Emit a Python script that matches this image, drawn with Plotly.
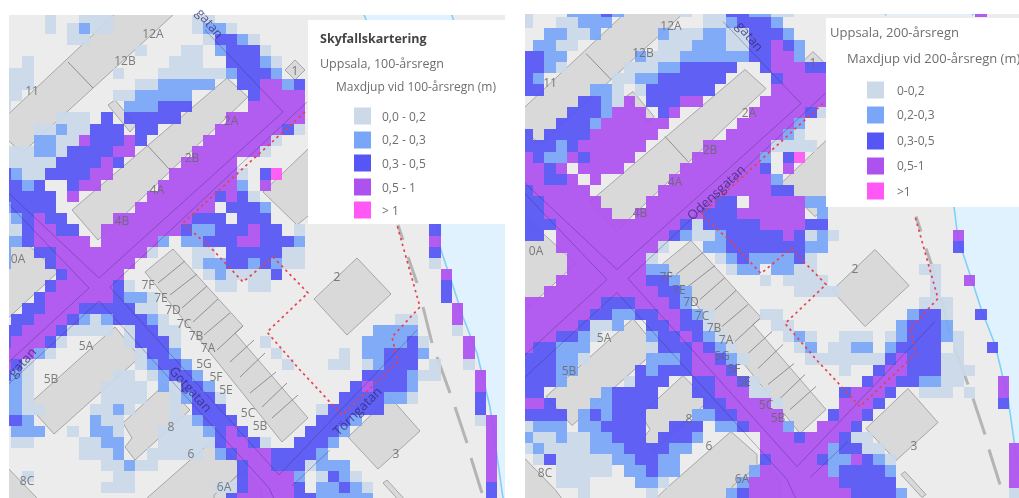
import plotly.graph_objects as go

W, H = 1019, 498
DEPTH_COLORS = ["#cbd9e9", "#7aa6f8", "#5656f6", "#ae52ef", "#ff58f6"]

# Depth class per raster cell, 100-year rain: "column(s)=class" for each row
LEFT_ROWS = [
    "4=1 7-9=1 17-18=1",
    "4=1 6=1 7=2 8-9=1 17=1 18-19=2 20=1",
    "6-7=1 18=1 19-20=3 21=2 22=1",
    "12=1 16-17=1 19=2 20-22=3 23=1",
    "2=1 15-17=1 20-22=3 23=2 24=1",
    "0-2=1 10=1 14-19=1 20=2 21-23=3 24=2",
    "0-2=1 12-13=1 14-18=2 21-22=3 23-24=4 25=2 26=3",
    "0-1=1 10-11=1 12-16=2 22=3 23-26=4",
    "0=1 11-13=2 14-16=3 22-26=4",
    "5-7=1 9=3 11-15=3 20-26=4",
    "3-4=1 5=2 6-7=1 8-10=3 12-13=3 19-24=4 25=3 26=1",
    "3-4=2 5-6=1 7=4 8-10=3 11=4 12=3 18-23=4 24=1",
    "0-2=1 3-4=2 5=1 6-9=3 10-11=4 17-22=4 23=1",
    "0-4=1 5-8=3 9=4 10=3 16-20=4",
    "0=3 1=2 2-3=1 4-7=3 8-9=4 15-20=4 21=1 23=3 24=5",
    "0-1=3 2=2 3=3 6=3 7-8=4 14-20=4 21=2 23=4",
    "0-4=3 6=4 13-18=4 19=3 20=4 21=3 22=1",
    "0=2 1-4=3 12-18=4 20-22=3 23=2",
    "0=1 1=2 2=3 3=4 4-5=3 10-16=4 17-19=3 21-23=3",
    "0-1=1 2=3 3-4=4 5-6=3 9-15=4 16=3 17-18=2 19-21=3 22=4 23-24=3 26=1 38=3",
    "0-1=2 2=3 3-7=4 9-13=4 14=2 16-17=2 18-20=3 21-22=4 23-25=3 26=2 38=4",
    "0=2 3-4=3 5-12=4 13=1 17=1 18=1 20-24=3 25-26=1 38=3",
    "0=2 4=3 5-11=4 17=1 18-19=2 20-21=3 22=2 23=3 24=2 25-26=1 38=1",
    "5=3 6-10=4 18=1 19=2 20-21=1 22-23=1 24=3 39=4",
    "4=3 5-9=4 10=3 11=1 19-20=1 22-23=1 39=3",
    "3=3 4-9=4 10=3 11-12=2 13=1 39=3",
    "2-3=3 4-6=4 7-11=3 12-13=1 40=4",
    "1-2=3 3-5=4 6=3 7=2 8=1 9=2 10-12=3 13=2 14=1 35-36=1 40=4",
    "0-1=3 2-4=4 5=3 6-9=1 11=1 12-13=3 14-15=1 33-36=2 40=1",
    "0=3 1-3=4 4=3 5=1 11=1 12-14=3 15=1 23=1 32-35=2 36=3 37=1 41=4",
    "0-2=4 3=2 4=1 12=1 13-14=3 15=2 24=1 30=1 32-33=2 34-36=3 37=2 41=4",
    "0=4 1=3 2=1 12=1 13=2 14-15=3 16=2 25=1 29-30=1 32=1 33=2 34-36=3 38=1 41=1",
    "0=3 1=2 2=1 10-11=1 13=1 14=2 15-16=3 17=2 32-35=3 36=2 37-38=1 42=4",
    "0-1=2 2=1 9-12=1 14=2 15=1 16-17=3 18=2 31=3 32=4 33-35=3 36=2 42=4",
    "0-1=2 2=1 9-12=1 15=1 16=2 17-18=3 19=1 30-33=3 34-35=2 36=1 42=3",
    "0-1=2 2-3=1 8-9=1 10=2 11=1 15=1 17-19=3 28=1 29-33=3 42=3",
    "0-1=3 2=2 8=2 9-10=1 15-16=1 17=2 18-20=3 28-30=3 31=2 42=1 43=4",
    "1-3=2 6=1 8-9=2 10=1 14-17=1 18=2 19=3 20=4 21=3 27-29=3 30=2 43=4",
    "1-2=1 7-8=1 9-10=2 14-18=1 19=3 20-21=4 22=3 23=1 26-28=3 29=2 43=4",
    "7-9=1 10=2 13-17=1 19=2 20=3 21-23=4 24-27=3 28=2 43=4",
    "9-10=1 11=2 12-13=1 21=3 22-23=4 24-26=3 27=1 28-30=2 43=4",
    "2=1 10-11=1 21=3 22-25=4 26=2 28=1 29=3 30=2 31=1 43=4",
    "9-11=1 19-20=1 21=3 22-25=4 26=3 28-29=2 30=3 31=2 32=1 43=3",
    "20=3 21-25=4 26-27=3 28-32=2 43=3",
]

# Depth class per raster cell, 200-year rain
RIGHT_ROWS = [
    "0=1 4-6=2 7=3 8=2 14=1 16-17=1 18-19=3 20-21=2 22-23=1 40=4",
    "0=1 3-4=1 5-7=2 16-17=1 18=2 19-21=3 22=2",
    "2-3=2 4-5=1 6=2 12=2 13-15=1 16-17=2 18-19=1 20-22=3 23=2",
    "1-2=2 3-4=1 12-14=1 15-17=2 18-19=1 20-21=3 22=4 23=3 24=2",
    "0-1=3 2-3=2 10=2 11-13=1 14-19=2 20-21=3 22-23=4 24=2",
    "0-1=3 2=2 3=1 9-11=1 12-13=2 14-18=3 21=3 22-24=4 25-26=3",
    "0=3 1=2 8-9=1 10-11=2 12-17=3 22=3 23-26=4",
    "0-1=3 6-7=2 8=1 10=1 11-16=3 22-26=4",
    "5-6=3 7=2 8=1 9=4 11-13=3 14-15=4 21-26=4",
    "4-6=3 7=2 8-10=4 12=3 13=4 20-24=4 25=3 26=1",
    "3-5=3 6=2 7-12=4 19-23=4 24=2",
    "0=3 2-5=3 6-11=4 18-22=4 23=2 24=1",
    "0-2=3 3=2 4=3 5-10=4 16-21=4 22-25=1",
    "0=4 1=3 2-3=2 4=4 5=3 6-9=4 15-20=4 21=2 23=3 24=5",
    "0-1=4 2=3 3=4 5-8=4 14-20=4 21=3 23=4",
    "0-1=4 2-3=3 4=4 6=4 13-21=4 22=2",
    "0=3 1-5=4 12-21=4 22-23=3",
    "0-1=3 2-6=4 11-16=4 17-18=3 20-24=4 25-26=2",
    "0-1=3 2-7=4 10-15=4 16-18=3 19-24=4 26=2",
    "0-2=3 3-13=4 14=3 15=1 16-20=3 21-24=4 25-26=3",
    "0-1=3 3-12=4 13=3 14=2 15-16=1 17=2 18-22=3 23=4 24=3 25=1 26=2 27=1 38=4",
    "3-11=4 12=1 16-17=2 18-24=3 25-26=2 38=3",
    "4-10=4 11=1 17=1 18=2 19=3 20-23=2 24=3 25=1",
    "4-10=4 11-12=2 18=1 19-20=2 22-23=2 24-25=1 35-36=1",
    "3-10=4 11-12=3 13=2 21=1 23-26=1 36=1 39=4",
    "2-11=4 12-13=3 14=2 24-27=1 36=1",
    "0-6=4 7-9=3 10-12=4 13=3 14=2 35-37=1",
    "0-5=4 6-7=3 8-9=2 10-11=3 12-13=4 14=3 15=2 16=1 21-22=1 34=2 35-36=3 37=1 40=3",
    "0-4=4 5=3 6-7=1 8=2 11-12=3 13=4 14-15=3 16=1 22-23=1 33=2 34-36=3 37=2",
    "0-2=4 3-4=3 5=2 6=1 11=2 12-13=3 14=4 15=3 16=2 17=1 23=1 24=2 25=1 28-30=1 32=1 33=2 34-36=3 37=2 38=1",
    "0=4 1-2=3 3-5=2 11=1 12-14=3 15=4 16=3 17=2 18=1 24=1 25=2 27-28=1 29-30=2 32=2 33-36=3 38=1 41=3",
    "0-2=3 3-4=2 5=1 11-13=2 14=3 15-16=4 17=3 18=2 19=1 25-31=1 32=3 33=4 34-36=3 37-38=1",
    "0-2=3 3-4=2 10=3 11=2 12-14=3 15-17=4 18=3 28=1 31=3 32-33=4 34-36=3 37-39=1",
    "0-2=3 3=2 9=1 10-12=3 15-16=3 17-18=4 19=3 20=1 30=3 31-32=4 33-34=3 35-36=2 37-38=1 42=4",
    "0-1=3 7=2 8-11=3 15-16=3 17-19=4 20-21=1 28=3 29-31=4 32=3 35-37=1 39=1 42=4",
    "0-1=4 2=3 6-7=2 8-11=3 16-17=3 18-21=4 22=1 28-30=4 31=3 42=3",
    "0-3=3 5=2 6=3 7=2 8-10=3 15-16=2 17-18=3 19-22=4 27=3 28-29=4 30=3",
    "0=1 1-3=2 5-6=2 7-10=3 13-15=3 17-18=2 19=3 20-22=4 23=2 26-28=4 29=3",
    "0=2 1-2=1 3=2 4-5=1 6-7=2 8-10=3 12-14=3 15=2 21-23=4 24=3 25-27=4 28=3 29-30=1",
    "0=1 1=2 2-5=1 6-8=2 9-12=3 13-14=2 21-26=4 27=2 28-29=3 30-31=1 43=4",
    "1=1 2=3 3-7=1 8-9=2 10-11=3 12-13=2 21=3 22-25=4 26=3 27-28=2 29=4 30=3 31=2 32=1 43=4",
    "3-7=1 9-10=2 11=3 12-13=2 20=2 21-26=4 27=2 28-31=3 32=2 43=4",
    "3-5=1 10-11=2 12=1 19=2 20-27=4 28-32=3 43=4",
    "5=1 11=1 18=2 19=3 20-28=4 29-32=3 33=2 43=1",
]

# Map geometry, in the coordinate system of the left map
BUILDINGS = [
    [(115, 14), (0, 122), (0, 133), (22, 153), (185, 4), (125, 4)],
    [(72, 210), (227, 78), (248, 97), (98, 240)],
    [(307, 150), (263, 192), (297, 225), (340, 190), (340, 120)],
    [(285, 70), (295, 60), (305, 70), (295, 80)],
    [(108, 105), (115, 100), (136, 125), (130, 132)],
    [(-10, 210), (58, 272), (-10, 335)],
    [(28, 405), (115, 327), (140, 357), (54, 434)],
    [(123, 423), (165, 384), (190, 410), (135, 460), (125, 447), (132, 438)],
    [(147, 498), (213, 440), (239, 463), (239, 473), (200, 515), (130, 515)],
    [(0, 460), (37, 498), (50, 515), (0, 515)],
    [(145, 272), (173, 249), (243, 326), (235, 333), (308, 418), (282, 442)],
    [(357, 258), (391, 294), (347, 335), (314, 299)],
    [(348, 437), (390, 397), (420, 431), (378, 469)],
    [(383, 483), (387, 480), (408, 503), (404, 506)],
    [(214, 495), (245, 470), (262, 490), (262, 515), (214, 515)],
]
DIVIDERS = [
    [(68, 62), (93, 88)], [(147, 145), (170, 170)],
    [(158, 283), (185, 261)], [(170, 295), (197, 274)], [(182, 308), (207, 286)],
    [(193, 322), (218, 299)], [(204, 335), (230, 313)], [(217, 350), (243, 326)],
    [(230, 362), (254, 340)], [(240, 377), (265, 353)], [(250, 393), (276, 372)],
    [(262, 407), (287, 383)], [(272, 418), (298, 395)],
]
WATER = [(436, 215), (440, 247), (452, 283), (463, 317), (477, 353), (490, 407), (503, 498),
         (506, 515), (540, 515), (540, 215)]
WATER_TOP = [(362, 10), (450, 10), (455, 24), (368, 24)]
COAST_LINES = [
    [(436, 215), (440, 247), (452, 283), (463, 317), (477, 353), (490, 407), (503, 498), (506, 515)],
    [(362, 10), (368, 24)], [(450, 10), (455, 24)],
]
PATH_DASHES = [
    [(398, 225), (403, 240)], [(408, 257), (417, 283)], [(423, 307), (432, 343)],
    [(437, 357), (450, 393)], [(455, 407), (467, 443)], [(471, 458), (482, 493)],
]
ROAD_LINES = [
    [(0, 195), (89, 288), (0, 370)],
    [(0, 185), (99, 278), (283, 112), (205, 30)],
    [(0, 392), (99, 301), (269, 488), (279, 510)],
    [(110, 287), (307, 102)],
    [(110, 287), (279, 475), (300, 453), (417, 330)],
    [(292, 486), (330, 450)],
]
RED_ROUTE = [(305, 112), (183, 223), (213, 250), (243, 282), (273, 257), (308, 293), (267, 332),
             (300, 370), (342, 415), (398, 362), (392, 337), (420, 307), (397, 225)]

LABEL_TEXT = ["12A", "12B", "11", "2A", "2B", "4A", "4B", "0A", "7F", "7E", "7D", "7C", "7B", "7A",
              "5G", "5F", "5E", "5C", "5B", "5A", "5B", "8", "6", "8C", "6A", "2", "3", "1"]
LABEL_X = [153, 125, 32, 231, 192, 157, 122, 18, 148, 161, 173, 184, 196, 208,
           204, 216, 226, 248, 260, 86, 51, 171, 191, 27, 224, 337, 396, 295]
LABEL_Y = [35, 62, 92, 122, 159, 191, 222, 260, 286, 299, 311, 325, 337, 349,
           365, 378, 391, 414, 427, 347, 380, 428, 455, 482, 488, 278, 455, 72]

LEFT_LEGEND_LABELS = ["0,0 - 0,2", "0,2 - 0,3", "0,3 - 0,5", "0,5 - 1", "> 1"]
RIGHT_LEGEND_LABELS = ["0-0,2", "0,2-0,3", "0,3-0,5", "0,5-1", ">1"]
LEFT_LEGEND_Y = [116, 140, 163, 187, 210]
RIGHT_LEGEND_Y = [90, 115, 141, 166, 191]

SHIFT_X, SHIFT_Y = 518, -8.5
TEXT_GREY = "#6e6e6e"
LABEL_GREY = "rgba(105,105,105,0.85)"
FONT = "Open Sans"


def expand(rows, ncols):
    grid = []
    for row in rows:
        cells = [None] * ncols
        for token in row.split():
            span, val = token.split("=")
            a, _, b = span.partition("-")
            for c in range(int(a), int(b or a) + 1):
                if c < ncols:
                    cells[c] = int(val)
        grid.append(cells)
    return grid


def px(x):
    return x / W


def py(y):
    return 1 - y / H


colorscale = []
for i, col in enumerate(DEPTH_COLORS):
    colorscale += [[i / 5, col], [(i + 1) / 5, col]]

fig = go.Figure()
shapes = []
annotations = []


def poly_path(pts, close=True):
    body = " L ".join(f"{x},{y}" for x, y in pts)
    return "M " + body + (" Z" if close else "")


def add_map(rows, xa, ya, x0, dx, y0, dy, sx, sy, ncols):
    def sh(pts):
        return [(x + sx, y + sy) for x, y in pts]
    for poly in (WATER, WATER_TOP):
        shapes.append(dict(type="path", path=poly_path(sh(poly)), xref=xa, yref=ya, layer="below",
                           fillcolor="#e0f2fe", line=dict(width=0)))
    for ln in COAST_LINES:
        shapes.append(dict(type="path", path=poly_path(sh(ln), False), xref=xa, yref=ya, layer="below",
                           line=dict(color="#80d0f8", width=1.6)))
    for ln in PATH_DASHES:
        shapes.append(dict(type="path", path=poly_path(sh(ln), False), xref=xa, yref=ya, layer="below",
                           line=dict(color="#b4b4b4", width=3)))
    for poly in BUILDINGS:
        shapes.append(dict(type="path", path=poly_path(sh(poly)), xref=xa, yref=ya, layer="below",
                           fillcolor="#d9d9d9", line=dict(color="#a6a6a6", width=1)))
    for ln in DIVIDERS:
        shapes.append(dict(type="path", path=poly_path(sh(ln), False), xref=xa, yref=ya, layer="below",
                           line=dict(color="#8f8f8f", width=1)))
    fig.add_trace(go.Heatmap(z=expand(rows, ncols), x0=x0 + dx / 2, dx=dx, y0=y0 + dy / 2, dy=dy,
                             colorscale=colorscale, zmin=0.5, zmax=5.5, showscale=False, hoverinfo="skip",
                             opacity=0.93, xaxis=xa, yaxis=ya))
    for ln in ROAD_LINES:
        p = sh(ln)
        fig.add_trace(go.Scatter(x=[a for a, _ in p], y=[b for _, b in p], mode="lines", hoverinfo="skip",
                                 line=dict(color="rgba(50,40,110,0.35)", width=1), xaxis=xa, yaxis=ya))
    p = sh(RED_ROUTE)
    fig.add_trace(go.Scatter(x=[a for a, _ in p], y=[b for _, b in p], mode="lines", hoverinfo="skip",
                             line=dict(color="#e8414e", width=1.7, dash="2.5px,3.5px"), xaxis=xa, yaxis=ya))
    fig.add_trace(go.Scatter(x=[v + sx for v in LABEL_X], y=[v + sy for v in LABEL_Y], text=LABEL_TEXT,
                             mode="text", hoverinfo="skip", textfont=dict(family=FONT, size=12, color=LABEL_GREY),
                             xaxis=xa, yaxis=ya))


add_map(LEFT_ROWS, "x", "y", -0.4, 11.3, 11.5, 11.2, 0, 0, 45)
add_map(RIGHT_ROWS, "x2", "y2", 521.7, 11.33, 6.0, 11.2, SHIFT_X, SHIFT_Y, 44)


def road_label(text, x, y, angle, xa="x", ya="y"):
    annotations.append(dict(text=text, x=x, y=y, xref=xa, yref=ya, showarrow=False, textangle=angle,
                            font=dict(family=FONT, size=13, color="rgba(50,40,110,0.75)")))


road_label("Gotgatan", 191, 389, 48)
road_label("Törngatan", 357, 411, -45)
road_label("gatan", 22, 362, -48)
road_label("gatan", 210, 23, 50)
road_label("Odensgatan", 716, 192, -43, "x2", "y2")
road_label("gatan", 750, 36, 50, "x2", "y2")


def text(x, y, s, size=12, color=TEXT_GREY, bold=False):
    annotations.append(dict(text=f"<b>{s}</b>" if bold else s, x=px(x - 2), y=py(y), xref="paper", yref="paper",
                            xanchor="left", yanchor="middle", showarrow=False,
                            font=dict(family=FONT, size=size, color=color)))


def legend_box(x0, y0, x1, y1, swatch_x, ys, labels, label_x):
    shapes.append(dict(type="rect", x0=px(x0), x1=px(x1), y0=py(y0), y1=py(y1), xref="paper", yref="paper",
                       fillcolor="white", line=dict(width=0), layer="above"))
    for yc, col, lab in zip(ys, DEPTH_COLORS, labels):
        shapes.append(dict(type="rect", x0=px(swatch_x), x1=px(swatch_x + 17), y0=py(yc - 8.5), y1=py(yc + 8.5),
                           xref="paper", yref="paper", fillcolor=col, line=dict(width=0), layer="above"))
        text(label_x, yc, lab)


legend_box(308, 20, 505, 224, 354, LEFT_LEGEND_Y, LEFT_LEGEND_LABELS, 382)
text(320, 38, "Skyfallskartering", size=12.5, color="#444444", bold=True)
text(320, 63, "Uppsala, 100-årsregn", size=12.5)
text(336, 87, "Maxdjup vid 100-årsregn (m)", size=12)
legend_box(826, 18, 1019, 207, 867, RIGHT_LEGEND_Y, RIGHT_LEGEND_LABELS, 897)
text(830, 32, "Uppsala, 200-årsregn", size=13)
text(847, 58, "Maxdjup vid 200-årsregn (m)", size=13)

axis = dict(showgrid=False, zeroline=False, showticklabels=False, ticks="", showline=False, constrain="range")
fig.update_layout(
    width=W, height=H, margin=dict(l=0, r=0, t=0, b=0), paper_bgcolor="white", plot_bgcolor="#ececec",
    showlegend=False, shapes=shapes, annotations=annotations,
    xaxis=dict(axis, domain=[px(9), px(505)], range=[9, 505]),
    yaxis=dict(axis, domain=[0, py(15)], range=[498, 15]),
    xaxis2=dict(axis, domain=[px(525), 1], range=[525, 1019], anchor="y2"),
    yaxis2=dict(axis, domain=[0, py(14)], range=[498, 14], anchor="x2"),
)
fig.write_html("out.html", config=dict(displayModeBar=False),
               post_script="document.body.style.margin='0';document.body.style.overflow='hidden';"
                           "document.querySelector('.plotly-graph-div').style.filter='blur(0.5px)';")
